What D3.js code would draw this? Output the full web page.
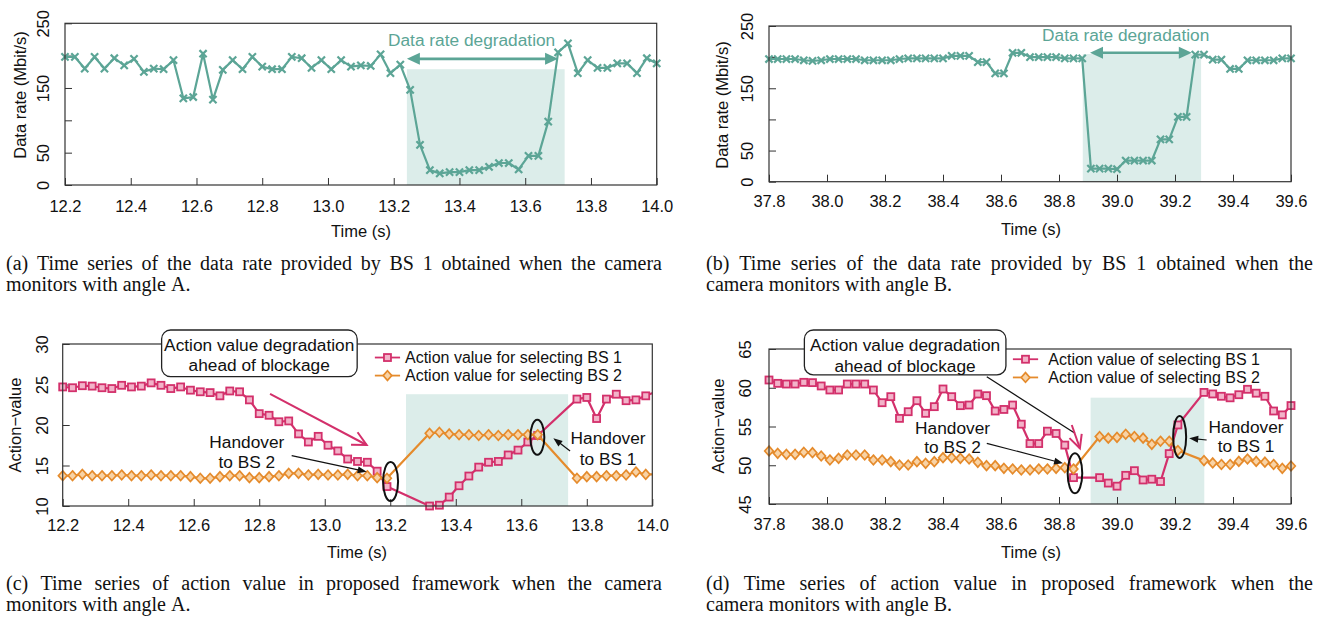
<!DOCTYPE html>
<html><head><meta charset="utf-8">
<script src="https://cdn.jsdelivr.net/npm/d3@7"></script>
<style>
body{margin:0;background:#fff;}
svg text{font-family:"Liberation Sans",Arial,Helvetica,sans-serif;}
svg text.cap{font-family:"Liberation Serif","Times New Roman",serif;font-size:20px;fill:#111;}
</style></head><body>
<script>
// ---------------- DATA ----------------
const timeA = [12.20,12.23,12.26,12.29,12.32,12.35,12.38,12.41,12.44,12.47,12.50,12.53,12.56,12.59,12.62,12.65,12.68,12.71,12.74,12.77,12.80,12.83,12.86,12.89,12.92,12.95,12.98,13.01,13.04,13.07,13.10,13.13,13.16,13.19,13.22,13.25,13.28,13.31,13.34,13.37,13.40,13.43,13.46,13.49,13.52,13.55,13.58,13.61,13.64,13.67,13.70,13.73,13.76,13.79,13.82,13.85,13.88,13.91,13.94,13.97,14.00];
const rateA = [198,198,180,198,180,196,185,195,175,180,179,193,134,136,203,132,178,193,179,198,183,179,179,198,196,181,193,179,193,183,185,184,202,173,186,147,62,23,18,20,20,23,23,28,34,34,24,45,45,98,205,219,173,193,181,181,188,188,173,196,188];

const timeB = [37.80,37.83,37.86,37.89,37.92,37.95,37.98,38.01,38.04,38.07,38.10,38.13,38.16,38.19,38.22,38.25,38.28,38.31,38.34,38.37,38.40,38.43,38.46,38.49,38.52,38.55,38.58,38.61,38.64,38.67,38.70,38.73,38.76,38.79,38.82,38.85,38.88,38.91,38.94,38.97,39.00,39.03,39.06,39.09,39.12,39.15,39.18,39.21,39.24,39.27,39.30,39.33,39.36,39.39,39.42,39.45,39.48,39.51,39.54,39.57,39.60];
const rateB = [197,197,197,197,195,194,195,197,197,197,197,195,195,195,195,197,198,198,198,198,198,202,202,202,192,192,174,174,207,207,200,200,200,200,198,198,198,21,21,21,20,34,34,34,34,68,68,104,104,204,204,196,196,181,181,195,195,195,195,198,198];

const timeC = [12.20,12.23,12.26,12.29,12.32,12.35,12.38,12.41,12.44,12.47,12.50,12.53,12.56,12.59,12.62,12.65,12.68,12.71,12.74,12.77,12.80,12.83,12.86,12.89,12.92,12.95,12.98,13.01,13.04,13.07,13.10,13.13,13.16,13.19,
  13.32,13.35,13.38,13.41,13.44,13.47,13.50,13.53,13.56,13.59,13.62,13.65,
  13.77,13.80,13.83,13.86,13.89,13.92,13.95,13.98,14.01];
const actionBS1C = [24.7,24.6,24.85,24.8,24.6,24.5,24.9,24.7,24.8,25.2,24.9,24.5,24.7,24.3,24.1,24.0,23.6,24.2,24.1,23.1,21.4,21.2,20.4,20.5,18.9,17.9,18.6,17.5,16.8,15.8,15.5,15.4,14.3,12.4,
  10.0,10.1,11.1,12.5,13.7,14.8,15.4,15.5,16.3,16.9,17.9,18.7,
  23.2,23.4,20.8,23.2,23.8,23.0,23.1,23.6,24.1];
const actionBS2C = [13.74,13.74,13.91,13.74,13.74,13.74,13.83,13.74,13.74,13.83,13.74,13.74,13.74,13.62,13.42,13.42,13.62,13.74,13.74,13.5,13.5,13.62,13.74,14.03,14.03,13.83,13.91,13.83,13.83,13.91,13.74,13.74,13.5,13.42,
  18.97,19.1,18.9,18.8,18.8,18.7,18.8,18.7,18.8,18.8,18.8,18.8,
  13.42,13.62,13.62,13.74,13.74,13.83,14.2,13.9,13.9];

const timeD = [37.80,37.83,37.86,37.89,37.92,37.95,37.98,38.01,38.04,38.07,38.10,38.13,38.16,38.19,38.22,38.25,38.28,38.31,38.34,38.37,38.40,38.43,38.46,38.49,38.52,38.55,38.58,38.61,38.64,38.67,38.70,38.73,38.76,38.79,38.82,38.85,
  38.94,38.97,39.00,39.03,39.06,39.09,39.12,39.15,39.18,39.21,
  39.30,39.33,39.36,39.39,39.42,39.45,39.48,39.51,39.54,39.57,39.60];
const actionBS1D = [61.0,60.57,60.48,60.48,60.70,60.66,60.23,59.71,59.71,60.48,60.48,60.48,59.71,58.07,58.85,56.05,56.91,58.33,56.70,57.56,59.84,58.85,57.69,57.77,59.19,58.98,57.0,57.2,57.77,55.3,52.8,52.8,54.4,54.1,52.6,48.4,
  48.4,47.7,47.3,48.7,49.3,48.1,48.2,47.9,51.5,55.2,
  59.4,59.2,58.9,58.7,59.1,59.8,59.3,58.9,57.0,56.5,57.7];
const actionBS2D = [51.84,51.54,51.41,51.41,51.67,51.62,51.19,50.68,50.89,51.32,51.32,51.32,50.68,50.68,50.46,50.03,50.03,50.46,50.25,50.46,50.98,50.98,50.89,50.81,50.38,49.95,49.95,49.6,49.52,49.39,49.39,49.52,49.52,49.6,49.69,49.52,
  53.7,53.5,53.6,54.0,53.7,53.5,52.7,53.1,53.1,51.9,
  50.6,50.3,50.1,50.1,50.5,50.8,50.5,50.4,50.1,49.6,49.9];

const xTicksAC = [12.2,12.4,12.6,12.8,13.0,13.2,13.4,13.6,13.8,14.0];
const xLabelsAC = ["12.2","12.4","12.6","12.8","13.0","13.2","13.4","13.6","13.8","14.0"];
const xTicksBD = [37.8,38.0,38.2,38.4,38.6,38.8,39.0,39.2,39.4,39.6];
const xLabelsBD = ["37.8","38.0","38.2","38.4","38.6","38.8","39.0","39.2","39.4","39.6"];
const yTicksRate = [0,50,100,150,200,250];
const yLabelsRate = ["0","50","","150","","250"];
const yTicksC = [10,15,20,25,30];
const yLabelsC = ["10","15","20","25","30"];
const yTicksD = [45,50,55,60,65];
const yLabelsD = ["45","50","55","60","65"];

const legendC = ["Action value for selecting BS 1","Action value for selecting BS 2"];
const legendD = ["Action value of selecting BS 1","Action value of selecting BS 2"];
const captionA = ["(a) Time series of the data rate provided by BS 1 obtained when the camera","monitors with angle A."];
const captionB = ["(b) Time series of the data rate provided by BS 1 obtained when the","camera monitors with angle B."];
const captionC = ["(c) Time series of action value in proposed framework when the camera","monitors with angle A."];
const captionD = ["(d) Time series of action value in proposed framework when the","camera monitors with angle B."];

// ---------------- STYLE ----------------
const TEAL="#5ca596", PINK="#d3306b", PINKF="#f2b3c9", ORANGE="#e58b2c", ORANGEF="#f8d3a6", SHADE="#dcedea", INK="#333", TXT="#111";
const AX_FS=16.5, ANN_FS=17.3, LEG_FS=16;

const svg = d3.select("body").append("svg").attr("width",1322).attr("height",625);

function headPts(x,y,ang,hl,hw){
  const c=Math.cos(ang), s=Math.sin(ang);
  return [[x,y],[x-hl*c+hw*s, y-hl*s-hw*c],[x-hl*c-hw*s, y-hl*s+hw*c]];
}
function filledArrow(g,x1,y1,x2,y2,color,sw,hl,hw,both){
  const ang=Math.atan2(y2-y1,x2-x1);
  let sx=x1, sy=y1;
  const ex=x2-Math.cos(ang)*hl*0.7, ey=y2-Math.sin(ang)*hl*0.7;
  if(both){ sx=x1+Math.cos(ang)*hl*0.7; sy=y1+Math.sin(ang)*hl*0.7; }
  g.append("line").attr("x1",sx).attr("y1",sy).attr("x2",ex).attr("y2",ey).attr("stroke",color).attr("stroke-width",sw);
  g.append("path").attr("d",d3.line()(headPts(x2,y2,ang,hl,hw))+"Z").attr("fill",color);
  if(both) g.append("path").attr("d",d3.line()(headPts(x1,y1,ang+Math.PI,hl,hw))+"Z").attr("fill",color);
}
function openArrow(g,x1,y1,x2,y2,color,sw,hl,hw){
  const ang=Math.atan2(y2-y1,x2-x1);
  g.append("line").attr("x1",x1).attr("y1",y1).attr("x2",x2).attr("y2",y2).attr("stroke",color).attr("stroke-width",sw);
  const p=headPts(x2,y2,ang,hl,hw);
  g.append("path").attr("d",d3.line()([p[1],p[0],p[2]])).attr("fill","none").attr("stroke",color).attr("stroke-width",sw).attr("stroke-linejoin","miter");
}
function marker(sel,type){
  if(type==="cross"){
    sel.append("path").attr("d","M-3.6,-3.6L3.6,3.6M-3.6,3.6L3.6,-3.6").attr("stroke",TEAL).attr("stroke-width",2.2).attr("fill","none");
  } else if(type==="square"){
    sel.append("rect").attr("x",-3.5).attr("y",-3.5).attr("width",7).attr("height",7).attr("fill",PINKF).attr("stroke",PINK).attr("stroke-width",1.8);
  } else {
    sel.append("path").attr("d","M0,-4.8L4.3,0L0,4.8L-4.3,0Z").attr("fill",ORANGEF).attr("stroke",ORANGE).attr("stroke-width",1.7);
  }
}
function txt(g,x,y,s,opt={}){
  return g.append("text").attr("x",x).attr("y",y).attr("dy","0.35em").attr("text-anchor",opt.anchor||"middle")
    .attr("font-size",opt.fs||ANN_FS).attr("fill",opt.fill||TXT).text(s);
}

function drawPanel(p){
  const g=svg.append("g");
  const x=d3.scaleLinear().domain(p.xDomain).range([p.L,p.R]);
  const y=d3.scaleLinear().domain(p.yDomain).range([p.B,p.T]);
  const clipId="clip-"+p.id;
  svg.append("clipPath").attr("id",clipId).append("rect").attr("x",p.L).attr("y",p.T).attr("width",p.R-p.L).attr("height",p.B-p.T);
  // shaded blockage window
  g.append("rect").attr("x",x(p.shade[0])).attr("y",y(p.shade[2])).attr("width",x(p.shade[1])-x(p.shade[0])).attr("height",p.B-y(p.shade[2])).attr("fill",SHADE);
  // axes
  const xa=g.append("g").attr("transform",`translate(0,${p.B})`)
    .call(d3.axisBottom(x).tickValues(p.xTicks).tickFormat((d,i)=>p.xLabels[i]).tickSizeInner(-7).tickSizeOuter(0));
  xa.attr("font-size",AX_FS).attr("font-family",null);
  xa.select(".domain").remove();
  xa.selectAll("line").attr("stroke",INK);
  xa.selectAll("text").attr("y",p.xLabelDy).attr("dy","0.35em").attr("fill",TXT);
  const ya=g.append("g").attr("transform",`translate(${p.L},0)`)
    .call(d3.axisLeft(y).tickValues(p.yTicks).tickFormat((d,i)=>p.yLabels[i]).tickSizeInner(-7).tickSizeOuter(0));
  ya.attr("font-size",AX_FS).attr("font-family",null);
  ya.select(".domain").remove();
  ya.selectAll("line").attr("stroke",INK);
  ya.selectAll("text").attr("x",0).attr("dy","0.35em").attr("text-anchor","middle").attr("fill",TXT)
    .attr("transform",`translate(${p.yLabelDx},0) rotate(-90)`);
  // series
  const sg=g.append("g");
  p.series.forEach(s=>{
    const pts=s.values.map((v,i)=>[s.time[i],v]);
    sg.append("path").attr("clip-path",`url(#${clipId})`)
      .attr("d",d3.line().x(d=>x(d[0])).y(d=>y(d[1]))(pts))
      .attr("fill","none").attr("stroke",s.color).attr("stroke-width",2.2).attr("stroke-linejoin","round");
    const vis=pts.filter(d=>d[0]>=p.xDomain[0]-1e-9 && d[0]<=p.xDomain[1]+1e-9);
    sg.selectAll(null).data(vis).enter().append("g").attr("transform",d=>`translate(${x(d[0])},${y(d[1])})`)
      .each(function(){ marker(d3.select(this),s.marker); });
  });
  // frame
  g.append("rect").attr("x",p.L).attr("y",p.T).attr("width",p.R-p.L).attr("height",p.B-p.T).attr("fill","none").attr("stroke",INK).attr("stroke-width",1.2);
  // axis titles
  txt(g,p.xTitlePos[0],p.xTitlePos[1],"Time (s)",{fs:AX_FS});
  g.append("text").attr("transform",`translate(${p.yTitlePos[0]},${p.yTitlePos[1]}) rotate(-90)`).attr("dy","0.35em")
    .attr("text-anchor","middle").attr("font-size",AX_FS).attr("fill",TXT).text(p.yTitle);
  if(p.annotate) p.annotate(g,x,y);
}

function legend(g,x,y,items,lx0,lx1,tx){
  items.forEach((it,i)=>{
    const yy=y(it.v);
    g.append("line").attr("x1",x(lx0)).attr("x2",x(lx1)).attr("y1",yy).attr("y2",yy).attr("stroke",it.color).attr("stroke-width",1.8);
    const m=g.append("g").attr("transform",`translate(${(x(lx0)+x(lx1))/2},${yy})`);
    marker(m,it.marker);
    txt(g,x(tx),yy,it.label,{anchor:"start",fs:LEG_FS});
  });
}
function box(g,x,y,x0,x1,y0,y1,lines,cx,ly){
  g.append("rect").attr("x",x(x0)).attr("y",y(y0)).attr("width",x(x1)-x(x0)).attr("height",y(y1)-y(y0))
    .attr("rx",9).attr("fill","#fff").attr("stroke","#222").attr("stroke-width",1.3);
  lines.forEach((l,i)=>txt(g,x(cx),y(ly[i]),l));
}
function ellipse(g,x,y,cx,cy,rx,ry){
  g.append("ellipse").attr("cx",x(cx)).attr("cy",y(cy)).attr("rx",rx).attr("ry",ry).attr("fill","none").attr("stroke","#111").attr("stroke-width",2);
}

// ---------------- PANELS ----------------
drawPanel({id:"a",L:65,R:656.7,T:23.3,B:185,xDomain:[12.2,14.0],yDomain:[0,250],
  xTicks:xTicksAC,xLabels:xLabelsAC,yTicks:yTicksRate,yLabels:yLabelsRate,xLabelDy:21,yLabelDx:-22,
  xTitlePos:[361,231],yTitlePos:[20,95],yTitle:"Data rate (Mbit/s)",shade:[13.24,13.72,179],
  series:[{time:timeA,values:rateA,color:TEAL,marker:"cross"}],
  annotate:(g,x,y)=>{
    filledArrow(g,x(13.24),y(195),x(13.70),y(195),TEAL,2.6,13,6,true);
    txt(g,x(13.437),y(224),"Data rate degradation",{fill:TEAL});
  }});

drawPanel({id:"b",L:769,R:1291,T:26,B:181.7,xDomain:[37.8,39.6],yDomain:[0,250],
  xTicks:xTicksBD,xLabels:xLabelsBD,yTicks:yTicksRate,yLabels:yLabelsRate,xLabelDy:20,yLabelDx:-22,
  xTitlePos:[1031,229],yTitlePos:[722,105],yTitle:"Data rate (Mbit/s)",shade:[38.882,39.29,205],
  series:[{time:timeB,values:rateB,color:TEAL,marker:"cross"}],
  annotate:(g,x,y)=>{
    filledArrow(g,x(38.907),y(207),x(39.258),y(207),TEAL,2.6,13,6,true);
    txt(g,x(39.03),y(235.5),"Data rate degradation",{fill:TEAL});
  }});

drawPanel({id:"c",L:62.7,R:652.3,T:344,B:506,xDomain:[12.2,14.0],yDomain:[10,30],
  xTicks:xTicksAC,xLabels:xLabelsAC,yTicks:yTicksC,yLabels:yLabelsC,xLabelDy:19,yLabelDx:-20,
  xTitlePos:[357,552],yTitlePos:[15,425],yTitle:"Action\u2212value",shade:[13.248,13.743,23.8],
  series:[{time:timeC,values:actionBS1C,color:PINK,marker:"square"},{time:timeC,values:actionBS2C,color:ORANGE,marker:"diamond"}],
  annotate:(g,x,y)=>{
    legend(g,x,y,[{v:28.33,color:PINK,marker:"square",label:legendC[0]},{v:26.1,color:ORANGE,marker:"diamond",label:legendC[1]}],13.153,13.23,13.245);
    box(g,x,y,12.502,13.099,31.73,25.96,["Action value degradation","ahead of blockage"],12.8,[29.88,27.41]);
    openArrow(g,x(12.833),y(23.83),x(13.128),y(17.53),PINK,2,14,7);
    txt(g,x(12.762),y(17.94),"Handover"); txt(g,x(12.762),y(15.47),"to BS 2");
    filledArrow(g,x(12.899),y(16.21),x(13.128),y(14.23),"#111",1.2,9,3.5,false);
    ellipse(g,x,y,13.201,13.02,7.5,19.5);
    ellipse(g,x,y,13.649,18.48,7,17.5);
    txt(g,x(13.865),y(18.43),"Handover"); txt(g,x(13.865),y(15.77),"to BS 1");
    filledArrow(g,x(13.749),y(16.79),x(13.698),y(18.36),"#111",1.2,9,3.5,false);
  }});

drawPanel({id:"d",L:769,R:1291,T:349,B:504,xDomain:[37.8,39.6],yDomain:[45,65],
  xTicks:xTicksBD,xLabels:xLabelsBD,yTicks:yTicksD,yLabels:yLabelsD,xLabelDy:20,yLabelDx:-24,
  xTitlePos:[1031,552],yTitlePos:[718,426],yTitle:"Action\u2212value",shade:[38.909,39.301,58.72],
  series:[{time:timeD,values:actionBS1D,color:PINK,marker:"square"},{time:timeD,values:actionBS2D,color:ORANGE,marker:"diamond"}],
  annotate:(g,x,y)=>{
    legend(g,x,y,[{v:63.68,color:PINK,marker:"square",label:legendD[0]},{v:61.33,color:ORANGE,marker:"diamond",label:legendD[1]}],38.641,38.728,38.763);
    g.append("line").attr("x1",x(38.551)).attr("y1",y(61.43)).attr("x2",x(38.855)).attr("y2",y(54.12)).attr("stroke","#111").attr("stroke-width",1.2);
    box(g,x,y,37.922,38.617,67.45,61.65,["Action value degradation","ahead of blockage"],38.269,[65.52,62.85]);
    openArrow(g,x(38.844),y(55.19),x(38.872),y(52.19),PINK,2,13,6.5);
    txt(g,x(38.433),y(54.77),"Handover"); txt(g,x(38.433),y(52.39),"to BS 2");
    filledArrow(g,x(38.551),y(52.83),x(38.814),y(50.25),"#111",1.2,9,3.5,false);
    ellipse(g,x,y,38.855,48.96,7.3,20);
    ellipse(g,x,y,39.216,53.65,6.5,21);
    txt(g,x(39.445),y(54.97),"Handover"); txt(g,x(39.445),y(52.52),"to BS 1");
    filledArrow(g,x(39.309),y(53.26),x(39.249),y(53.48),"#111",1.2,9,3.5,false);
  }});

// ---------------- CAPTIONS (justified) ----------------
function caption(lines,x0,yBase,width,lineH){
  lines.forEach((ln,li)=>{
    const words=ln.split(" ");
    const yy=yBase+li*lineH;
    const probe=svg.append("text").attr("class","cap");
    const widths=words.map(w=>{probe.text(w);return probe.node().getComputedTextLength();});
    probe.text("a b"); const ab=probe.node().getComputedTextLength();
    probe.text("ab"); const space=ab-probe.node().getComputedTextLength();
    probe.remove();
    const last=li===lines.length-1;
    const gap=last?space:(width-d3.sum(widths))/(words.length-1);
    let cx=x0;
    words.forEach((w,i)=>{svg.append("text").attr("class","cap").attr("x",cx).attr("y",yy).text(w);cx+=widths[i]+gap;});
  });
}
caption(captionA,6,269.5,656,21);
caption(captionB,706,269.5,607,21);
caption(captionC,6,589.5,656,21.5);
caption(captionD,706,589.5,607,21.5);
</script>
</body></html>
